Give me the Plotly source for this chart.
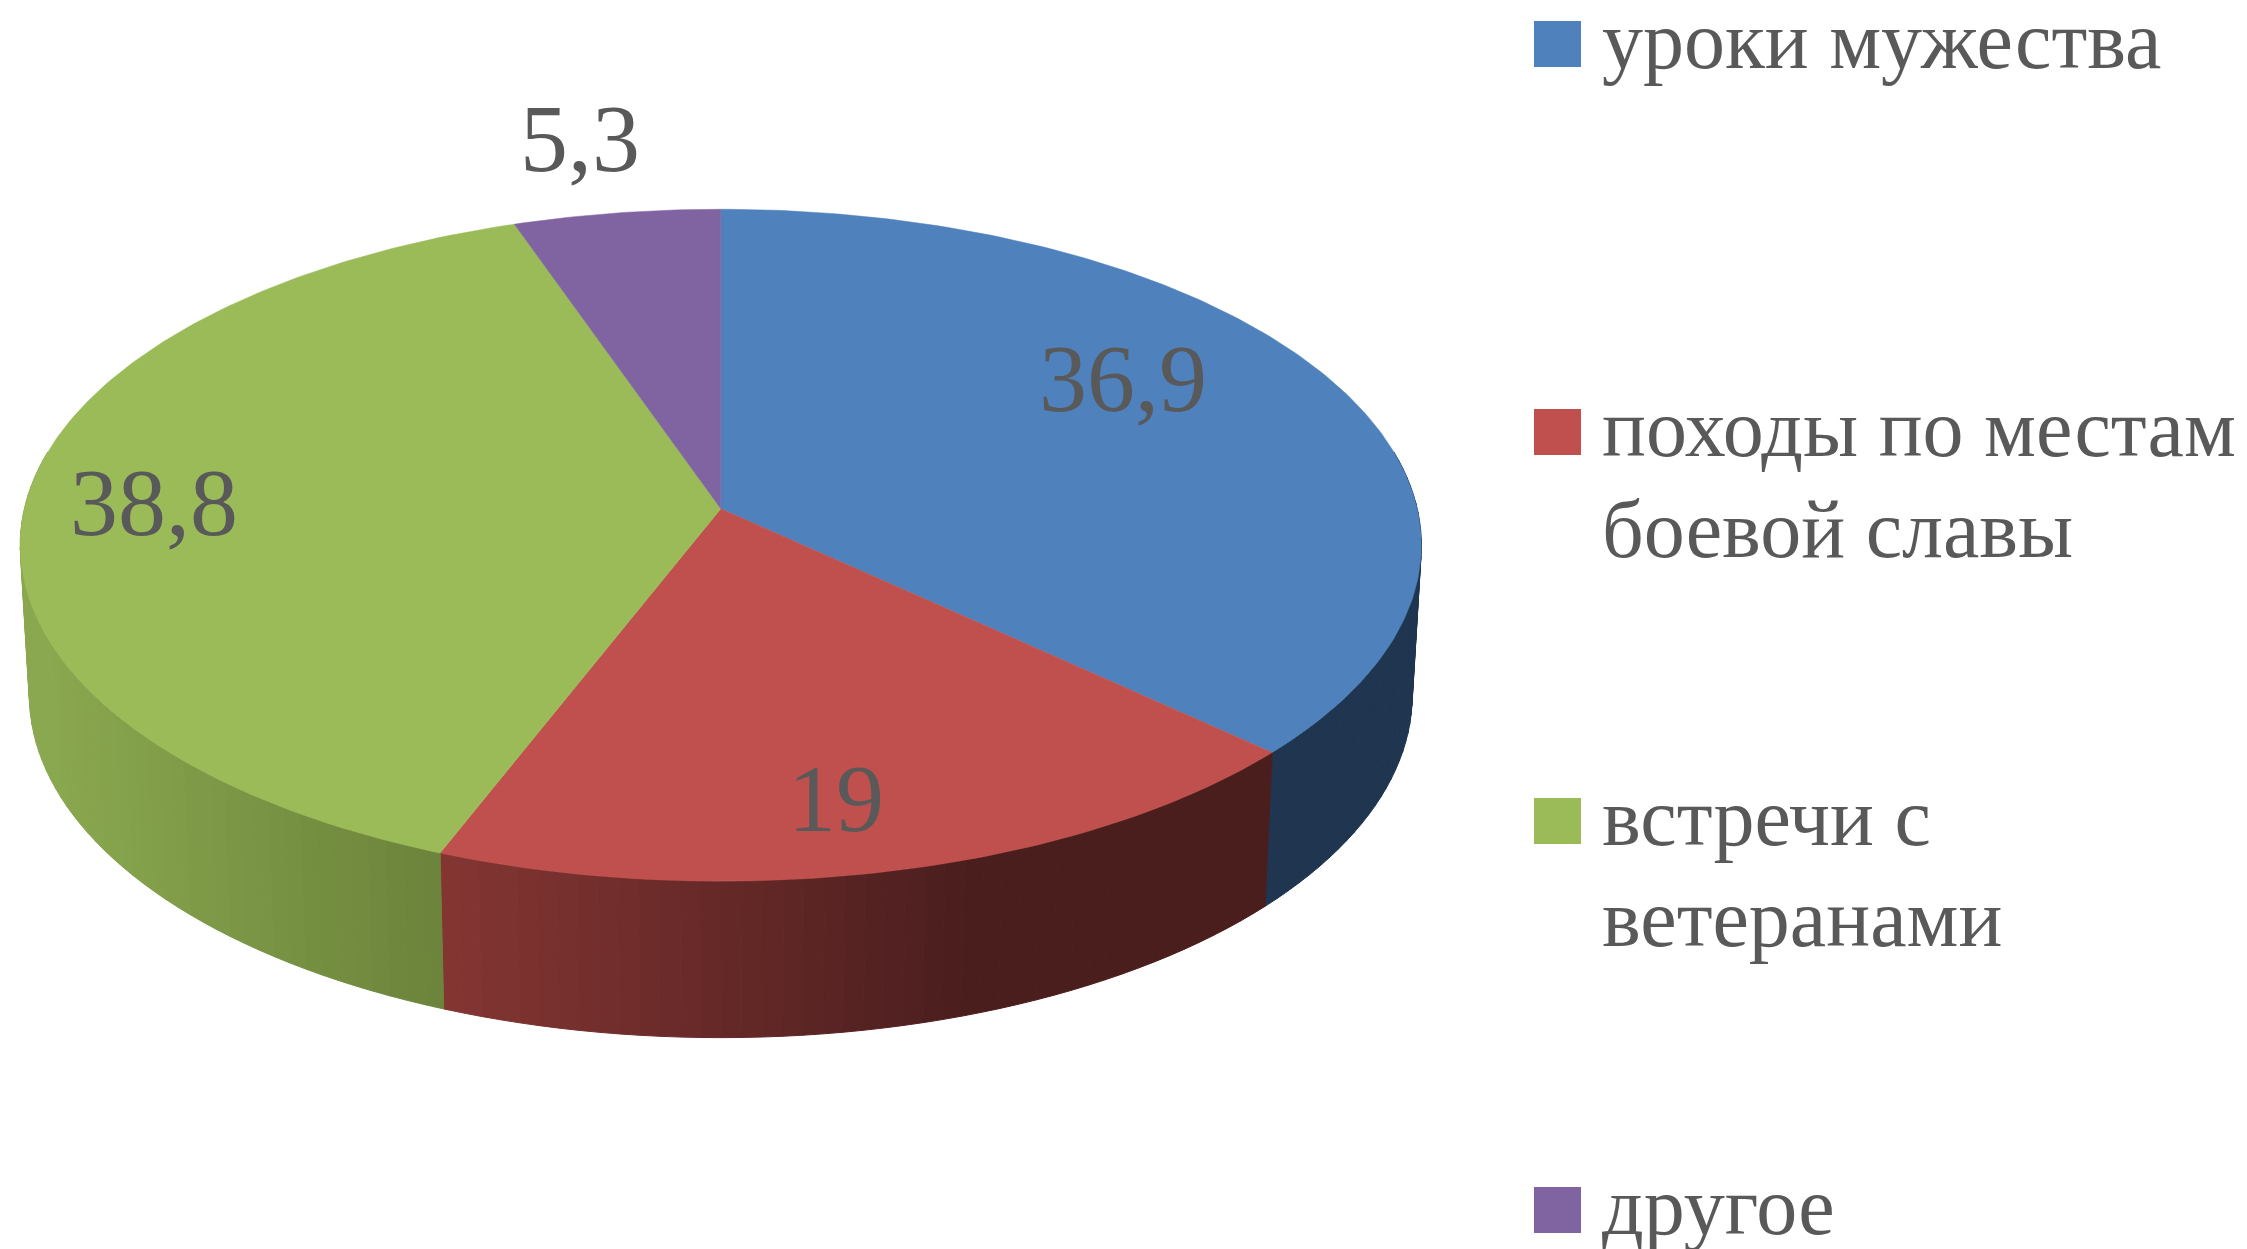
import numpy as np
import plotly.graph_objects as go

categories = ["уроки мужества", "походы по местам<br>боевой славы", "встречи с<br>ветеранами", "другое"]
values = [36.9, 19, 38.8, 5.3]
value_labels = ["36,9", "19", "38,8", "5,3"]
top_colors = ["#4F81BD", "#C0504D", "#9BBB59", "#8064A2"]
side_left = ["#1F3550", "#853633", "#8AA84F", "#4B3A63"]
side_right = ["#1F3550", "#4B1E1E", "#6C843B", "#4B3A63"]
label_xy = [(1123, 378), (836, 798), (154, 502), (580, 138)]
legend_y = [44, 432, 821, 1210]
W, H = 2247, 1249
CX, CY, A, B, K = 720.8, 508.7, 696.4, 332.0, 0.1087
S_X, S_Y, DEPTH = 0.987, 1.02, 149.0
FONT = "Liberation Serif"
INK = "#595959"
LEGEND_SIZE, LEGEND_LINE = 82, 101


def project(deg, lower=False):
    t = np.radians(deg)
    u, v = np.sin(t), np.cos(t)
    d = 1 + K * v
    x, y = A * u / d, -B * v / d
    if lower:
        return CX + S_X * x, CY + S_Y * y + DEPTH
    return CX + x, CY + y


def mix(c1, c2, f):
    a = [int(c1[i:i + 2], 16) for i in (1, 3, 5)]
    b = [int(c2[i:i + 2], 16) for i in (1, 3, 5)]
    return "#%02x%02x%02x" % tuple(round(p + (q - p) * f) for p, q in zip(a, b))


fig = go.Figure()
edges = np.concatenate([[0], np.cumsum(values)]) * 3.6

# side wall: narrow strips along the front of the disc, shaded per slice
for i in range(len(values)):
    lo, hi = max(edges[i], 80), min(edges[i + 1], 280)
    if hi <= lo:
        continue
    steps = np.linspace(lo, hi, max(2, int((hi - lo) / 1.5) + 1))
    x_a, x_b = project(lo)[0], project(hi)[0]
    for a0, a1 in zip(steps[:-1], steps[1:]):
        xt0, yt0 = project(a0)
        xt1, yt1 = project(a1)
        xb0, yb0 = project(a0, True)
        xb1, yb1 = project(a1, True)
        f = (xt0 - min(x_a, x_b)) / max(abs(x_a - x_b), 1)
        col = mix(side_left[i], side_right[i], min(1, max(0, f * 1.55 if i == 1 else f)))
        fig.add_trace(go.Scatter(x=[xt0, xt1, xb1, xb0, xt0], y=[yt0, yt1, yb1, yb0, yt0], mode="lines",
                                 fill="toself", fillcolor=col, line=dict(color=col, width=1),
                                 hoverinfo="skip", showlegend=False))

# top face
for i, cat in enumerate(categories):
    ang = np.linspace(edges[i], edges[i + 1], int(values[i] * 5) + 2)
    px, py = project(ang)
    fig.add_trace(go.Scatter(x=np.r_[CX, px, CX], y=np.r_[CY, py, CY], mode="lines", fill="toself",
                             fillcolor=top_colors[i], line=dict(color=top_colors[i], width=0.5),
                             name=cat.replace("<br>", " "), text=value_labels[i], hoverinfo="name+text",
                             showlegend=False))

ann = []
for (x, y), t in zip(label_xy, value_labels):
    ann.append(dict(x=x, y=y, text=t, showarrow=False, xanchor="center", yanchor="middle",
                    font=dict(family=FONT, size=96, color=INK)))
shapes = []
for y, cat, c in zip(legend_y, categories, top_colors):
    shapes.append(dict(type="rect", x0=1534, x1=1581, y0=y - 23, y1=y + 23, fillcolor=c, line=dict(width=0),
                       xref="x", yref="y"))
    for n, line in enumerate(cat.split("<br>")):
        ann.append(dict(x=1600, y=y + n * LEGEND_LINE - 4, text=line, showarrow=False, xanchor="left",
                        yanchor="middle", align="left", font=dict(family=FONT, size=LEGEND_SIZE, color=INK)))

fig.update_layout(width=W, height=H, margin=dict(l=0, r=0, t=0, b=0), paper_bgcolor="white", plot_bgcolor="white",
                  xaxis=dict(range=[0, W], visible=False, fixedrange=True),
                  yaxis=dict(range=[H, 0], visible=False, fixedrange=True),
                  annotations=ann, shapes=shapes, showlegend=False)
fig.write_html("out.html", config=dict(displayModeBar=False),
               post_script="document.body.style.margin='0';document.body.style.overflow='hidden';")
